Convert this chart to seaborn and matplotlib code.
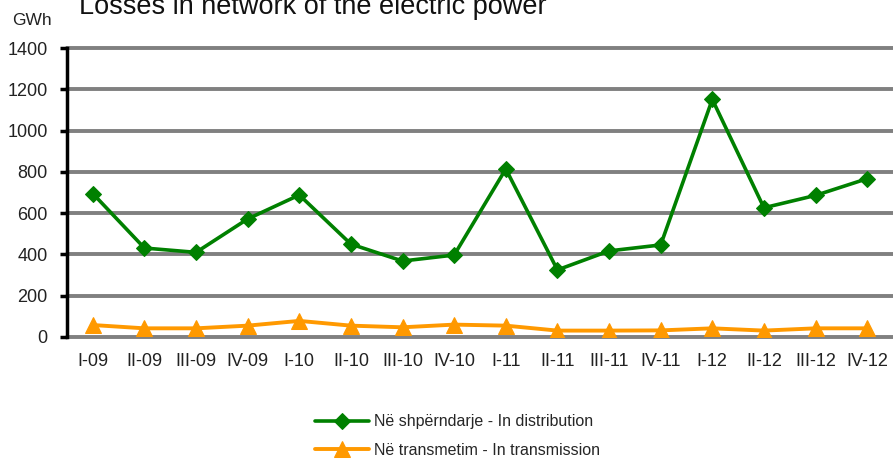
import seaborn as sns
from matplotlib import pyplot as plt
import pandas as pd

# Data
quarters = ["I-09", "II-09", "III-09", "IV-09", "I-10", "II-10", "III-10", "IV-10",
            "I-11", "II-11", "III-11", "IV-11", "I-12", "II-12", "III-12", "IV-12"]
distribution = [695, 431, 410, 572, 688, 450, 368, 397,
                814, 325, 417, 446, 1151, 626, 686, 767]
transmission = [58, 42, 42, 55, 78, 55, 47, 60,
                55, 31, 31, 32, 42, 31, 42, 42]

df = pd.DataFrame({"pos": range(len(quarters)),
                   "dist": distribution,
                   "trans": transmission})

sns.set_style("white")
plt.rcParams["font.family"] = ["Liberation Sans", "DejaVu Sans"]

fig = plt.figure(figsize=(8.93, 4.59), dpi=100)
ax = fig.add_axes([0.075, 0.2658, 0.925, 0.6296])

# horizontal grid
for y in range(0, 1401, 200):
    ax.axhline(y, color="#808080", lw=2.8, zorder=0, clip_on=False)

sns.lineplot(data=df, x="pos", y="dist", ax=ax, color="#008000", lw=2.6,
             marker="D", markersize=8.5, markeredgecolor="#008000",
             label="Në shpërndarje - In distribution", zorder=3)
sns.lineplot(data=df, x="pos", y="trans", ax=ax, color="#FF9900", lw=2.8,
             marker="^", markersize=12, markeredgecolor="#FF9900",
             label="Në transmetim - In transmission", zorder=3)

ax.set_xlim(-0.5, len(quarters) - 0.5)
ax.set_ylim(0, 1400)
ax.set_yticks(range(0, 1401, 200))
ax.set_xticks(range(len(quarters)))
ax.set_xticklabels(quarters, fontsize=13, color="#222222")
ax.tick_params(axis="y", labelsize=13, labelcolor="#222222", left=True,
               length=5, width=2.5, color="black", pad=9)
ax.tick_params(axis="x", bottom=False, pad=8)
ax.set_xlabel("")
ax.set_ylabel("")

for side in ["top", "right", "bottom"]:
    ax.spines[side].set_visible(False)
ax.spines["left"].set_color("black")
ax.spines["left"].set_linewidth(2.5)
ax.spines["left"].set_zorder(4)

fig.text(0.014, 0.955, "GWh", fontsize=12.5, color="#222222", va="center")
fig.text(0.089, 0.969, "Losses in network of the electric power", fontsize=19.5,
         color="#111111", va="baseline")

ax.get_legend().remove()
fig.legend(*ax.get_legend_handles_labels(), loc="center",
           bbox_to_anchor=(0.512, 0.05), frameon=False, fontsize=11.5,
           handlelength=3.4, labelspacing=0.85, handletextpad=0.3)

plt.savefig("out.png", dpi=100)
